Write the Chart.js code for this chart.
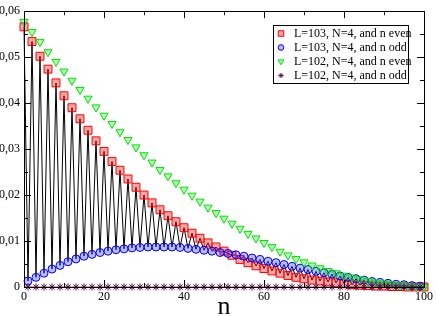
<!DOCTYPE html>
<html>
<head>
<meta charset="utf-8">
<script src="https://cdn.jsdelivr.net/npm/chart.js@4/dist/chart.umd.min.js"></script>
<style>
  html, body { margin: 0; padding: 0; background: #fff; }
  #wrap { width: 436px; height: 316px; }
</style>
</head>
<body>
<div id="wrap"><canvas id="chart" width="436" height="316"></canvas></div>
<script>
// data

const nEven = [0,2,4,6,8,10,12,14,16,18,20,22,24,26,28,30,32,34,36,38,40,42,44,46,48,50,
               52,54,56,58,60,62,64,66,68,70,72,74,76,78,80,82,84,86,88,90,92,94,96,98,100];
const nOdd = [1,3,5,7,9,11,13,15,17,19,21,23,25,27,29,31,33,35,37,39,41,43,45,47,49,
              51,53,55,57,59,61,63,65,67,69,71,73,75,77,79,81,83,85,87,89,91,93,95,97,99];

// L=103, n even
const evenL103 = [0.0566,0.0534,0.0502,0.0474,0.0444,0.0416,0.0390,0.0366,0.0341,0.0318,
                  0.0295,0.0273,0.0254,0.0235,0.0217,0.0200,0.0183,0.0168,0.0155,0.0142,
                  0.0129,0.0117,0.0106,0.0096,0.0087,0.0078,0.0069,0.0060,0.0053,0.0046,
                  0.0040,0.0035,0.0030,0.0025,0.0021,0.0018,0.0015,0.0013,0.0011,0.0009,
                  0.0007,0.0005,0.0004,0.0003,0.0002,0.0002,0.0001,0.0001,0.0000,0.0000,0.0000];
// L=103, n odd
const oddL103 = [0.0013,0.0021,0.0030,0.0039,0.0047,0.0055,0.0061,0.0067,0.0071,0.0075,
                 0.0078,0.0081,0.0083,0.0085,0.0086,0.0087,0.0087,0.0087,0.0087,0.0086,
                 0.0084,0.0082,0.0080,0.0078,0.0075,0.0073,0.0070,0.0067,0.0063,0.0060,
                 0.0056,0.0053,0.0049,0.0045,0.0041,0.0038,0.0034,0.0031,0.0028,0.0024,
                 0.0021,0.0018,0.0015,0.0012,0.0010,0.0008,0.0006,0.0005,0.0003,0.0002];
// L=102, n even
const evenL102 = [0.0577,0.0555,0.0533,0.0511,0.0490,0.0469,0.0449,0.0429,0.0410,0.0391,
                  0.0373,0.0355,0.0337,0.0320,0.0304,0.0287,0.0271,0.0255,0.0241,0.0226,
                  0.0212,0.0199,0.0186,0.0173,0.0161,0.0149,0.0138,0.0127,0.0116,0.0106,
                  0.0096,0.0087,0.0077,0.0069,0.0061,0.0054,0.0047,0.0041,0.0035,0.0030,
                  0.0025,0.0021,0.0017,0.0013,0.0010,0.0008,0.0006,0.0004,0.0002,0.0001,0.0000];
// L=102, n odd
const oddL102 = [0,0,0,0,0,0,0,0,0,0, 0,0,0,0,0,0,0,0,0,0, 0,0,0,0,0,0,0,0,0,0,
                 0,0,0,0,0,0,0,0,0,0, 0,0,0,0,0,0,0,0,0,0];

const seriesLabels = ['L=103, N=4, and n even', 'L=103, N=4, and n odd',
                      'L=102, N=4, and n even', 'L=102, N=4, and n odd'];

const xTicks = [0, 20, 40, 60, 80, 100];
const xMinor = [10, 30, 50, 70, 90];
const yTicks = [0, 0.01, 0.02, 0.03, 0.04, 0.05, 0.06];
const yMinor = [0.005, 0.015, 0.025, 0.035, 0.045, 0.055];


const pts = (xs, ys) => xs.map((x, i) => ({ x: x, y: ys[i] }));
const l103Line = pts(nEven, evenL103).concat(pts(nOdd, oddL103)).sort((a, b) => a.x - b.x);

const serif = 'Liberation Serif';

const styles = [
    { pointStyle: 'rect', radius: 5.6, rotation: 0, fill: 'rgba(255,0,0,0.35)', stroke: '#ff0000' },
    { pointStyle: 'circle', radius: 4, rotation: 0, fill: 'rgba(60,60,255,0.35)', stroke: '#0000ff' },
    { pointStyle: 'triangle', radius: 4.7, rotation: 180, fill: 'rgba(0,255,0,0.3)', stroke: '#00e000' },
    { pointStyle: 'star', radius: 3.6, rotation: 0, fill: '#670748', stroke: '#670748' }
];

const markerSet = (label, data, st, order) => ({
    label: label,
    data: data,
    showLine: false,
    pointStyle: st.pointStyle,
    pointRadius: st.radius,
    pointRotation: st.rotation,
    pointBackgroundColor: st.fill,
    pointBorderColor: st.stroke,
    pointBorderWidth: 1,
    clip: false,
    order: order
});


// frame with inward ticks on all four sides
const framePlugin = {
    id: 'frame',
    afterDatasetsDraw(chart) {
        const ctx = chart.ctx;
        const a = chart.chartArea;
        const sx = chart.scales.x, sy = chart.scales.y;
        ctx.save();
        ctx.strokeStyle = '#000';
        ctx.lineWidth = 1;
        ctx.strokeRect(Math.round(a.left) + 0.5, Math.round(a.top) + 0.5,
                       Math.round(a.right - a.left), Math.round(a.bottom - a.top));
        ctx.beginPath();
        const tickX = (v, len) => {
            const px = Math.round(sx.getPixelForValue(v)) + 0.5;
            ctx.moveTo(px, a.bottom); ctx.lineTo(px, a.bottom - len);
            ctx.moveTo(px, a.top); ctx.lineTo(px, a.top + len);
        };
        const tickY = (v, len) => {
            const py = Math.round(sy.getPixelForValue(v)) + 0.5;
            ctx.moveTo(a.left, py); ctx.lineTo(a.left + len, py);
            ctx.moveTo(a.right, py); ctx.lineTo(a.right - len, py);
        };
        xTicks.forEach(v => tickX(v, 7));
        xMinor.forEach(v => tickX(v, 4));
        yTicks.forEach(v => tickY(v, 7));
        yMinor.forEach(v => tickY(v, 4));
        ctx.stroke();
        ctx.restore();
    }
};

// boxed legend inside the plot
const legendPlugin = {
    id: 'boxLegend',
    afterDraw(chart) {
        const ctx = chart.ctx;
        const box = { left: 273, top: 25, right: 408, bottom: 83 };
        ctx.save();
        ctx.fillStyle = '#fff';
        ctx.fillRect(box.left, box.top, box.right - box.left, box.bottom - box.top);
        ctx.strokeStyle = '#000';
        ctx.lineWidth = 1;
        ctx.strokeRect(box.left + 0.5, box.top + 0.5, box.right - box.left, box.bottom - box.top);

        ctx.font = '12px "' + serif + '"';
        ctx.textBaseline = 'middle';
        ctx.textAlign = 'left';
        seriesLabels.forEach((label, i) => {
            const y = 33.5 + i * 14;
            const st = styles[i];
            ctx.fillStyle = st.fill;
            ctx.strokeStyle = st.stroke;
            ctx.lineWidth = 1;
            Chart.helpers.drawPoint(ctx, {
                pointStyle: st.pointStyle,
                radius: st.radius * 0.7,
                rotation: st.rotation,
                borderWidth: 1
            }, 281, y);
            ctx.fillStyle = '#000';
            ctx.fillText(label, 294, y);
        });
        ctx.restore();
    }
};


new Chart(document.getElementById('chart'), {
    type: 'scatter',
    data: {
        datasets: [
            markerSet(seriesLabels[0], pts(nEven, evenL103), styles[0], 3),
            markerSet(seriesLabels[1], pts(nOdd, oddL103), styles[1], 2),
            markerSet(seriesLabels[2], pts(nEven, evenL102), styles[2], 1),
            markerSet(seriesLabels[3], pts(nOdd, oddL102), styles[3], 0),
            {
                label: 'line',
                data: l103Line,
                showLine: true,
                borderColor: '#000',
                borderWidth: 1,
                pointRadius: 0,
                clip: false,
                order: 4
            }
        ]
    },
    options: {
        responsive: false,
        animation: false,
        devicePixelRatio: 1,
        layout: { padding: { top: 6, right: 11, left: 0, bottom: 0 } },
        plugins: {
            legend: { display: false },
            tooltip: { enabled: false }
        },
        scales: {
            x: {
                type: 'linear',
                min: 0,
                max: 100,
                afterBuildTicks: s => { s.ticks = xTicks.map(v => ({ value: v })); },
                afterFit: s => { s.height = 29; },
                grid: { display: false, drawTicks: false },
                border: { display: false },
                ticks: {
                    color: '#000',
                    padding: 3,
                    maxRotation: 0,
                    autoSkip: false,
                    font: { family: serif, size: 12 }
                },
                title: {
                    display: true,
                    text: 'n',
                    color: '#000',
                    padding: { top: 0, bottom: -4 },
                    font: { family: serif, size: 26, lineHeight: 1 }
                }
            },
            y: {
                type: 'linear',
                min: 0,
                max: 0.06,
                afterBuildTicks: s => { s.ticks = yTicks.map(v => ({ value: v })); },
                afterFit: s => { s.width = 24; },
                grid: { display: false, drawTicks: false },
                border: { display: false },
                ticks: {
                    color: '#000',
                    padding: 4,
                    font: { family: serif, size: 12 },
                    callback: v => v === 0 ? '0' : v.toFixed(2).replace('.', ',')
                }
            }
        }
    },
    plugins: [framePlugin, legendPlugin]
});
</script>
</body>
</html>
